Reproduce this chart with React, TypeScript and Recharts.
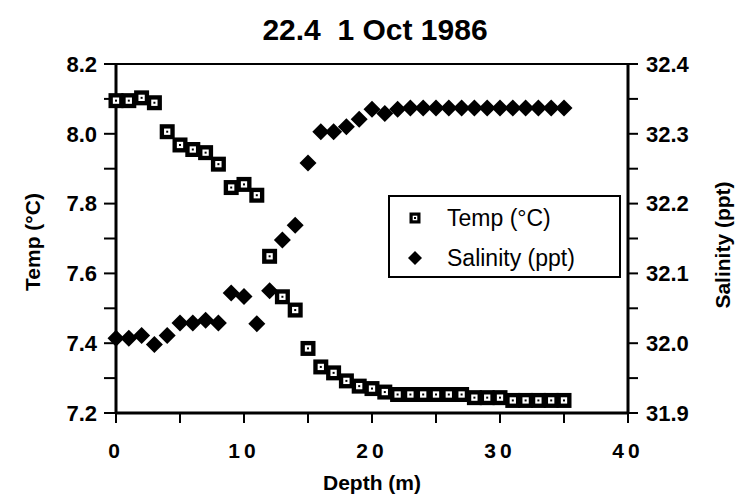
import {
    ScatterChart,
    Scatter,
    XAxis,
    YAxis,
    Legend,
    ReferenceLine,
} from 'recharts';

// Station 22.4, 1 Oct 1986: one reading per metre of depth
const depths = [
    0, 1, 2, 3, 4, 5, 6, 7, 8, 9, 10, 11, 12, 13, 14, 15, 16, 17,
    18, 19, 20, 21, 22, 23, 24, 25, 26, 27, 28, 29, 30, 31, 32, 33, 34, 35,
];

const temps = [
    8.095, 8.095, 8.103, 8.089, 8.006, 7.968, 7.955, 7.946, 7.913, 7.846, 7.855, 7.824,
    7.649, 7.533, 7.495, 7.385, 7.332, 7.315, 7.292, 7.277, 7.27, 7.26,
    7.253, 7.253, 7.253, 7.253, 7.253, 7.253, 7.244, 7.244, 7.244,
    7.236, 7.236, 7.236, 7.236, 7.236,
];

const salinity = [
    32.007, 32.007, 32.011, 31.998, 32.011, 32.029, 32.029, 32.033, 32.029, 32.072, 32.067, 32.028,
    32.075, 32.148, 32.169, 32.258, 32.303, 32.303, 32.31, 32.321, 32.335, 32.329,
    32.335, 32.337, 32.337, 32.337, 32.337, 32.337, 32.337, 32.337, 32.337,
    32.337, 32.337, 32.337, 32.337, 32.337,
];

const depthTicks = [0, 5, 10, 15, 20, 25, 30, 35, 40];
const tempTicks = [7.2, 7.3, 7.4, 7.5, 7.6, 7.7, 7.8, 7.9, 8.0, 8.1, 8.2];
const salTicks = [31.9, 31.95, 32.0, 32.05, 32.1, 32.15, 32.2, 32.25, 32.3, 32.35, 32.4];

const FONT = '"Liberation Sans", Arial, Helvetica, sans-serif';

const tempData = depths.map((d, i) => ({ depth: d, value: temps[i] }));
const salData = depths.map((d, i) => ({ depth: d, value: salinity[i] }));

// open square with a dot, as in the printed figure
// (markSize, not size: recharts overwrites size on scatter shapes)
function TempMark(props: any) {
    const { cx, cy, markSize = 15 } = props;
    const h = markSize / 2;
    const w = markSize * 0.21;
    return (
        <g>
            <rect x={cx - h} y={cy - h} width={markSize} height={markSize} fill="#000" />
            <rect x={cx - w} y={cy - w} width={w * 2} height={w * 2} fill="#fff" />
            <rect x={cx - 1} y={cy - 1} width={2} height={2} fill="#000" />
        </g>
    );
}

function SalMark(props: any) {
    const { cx, cy, markSize = 17 } = props;
    const h = markSize / 2;
    return (
        <polygon
            points={`${cx},${cy - h} ${cx + h},${cy} ${cx},${cy + h} ${cx - h},${cy}`}
            fill="#000"
        />
    );
}

function LegendBox() {
    const row = { display: 'flex', alignItems: 'center', height: 40 };
    const label = { fontFamily: FONT, fontSize: 23, color: '#000', marginLeft: 25 };
    return (
        <div
            style={{
                width: 233,
                height: 83,
                border: '2px solid #000',
                background: '#fff',
                boxSizing: 'border-box',
                padding: '1px 0 0 18px',
            }}
        >
            <div style={row}>
                <svg width={14} height={14}>
                    <TempMark cx={7} cy={7} markSize={11} />
                </svg>
                <span style={label}>Temp (°C)</span>
            </div>
            <div style={row}>
                <svg width={14} height={14}>
                    <SalMark cx={7} cy={7} markSize={14} />
                </svg>
                <span style={label}>Salinity (ppt)</span>
            </div>
        </div>
    );
}

const tickStyle = { fill: '#000', fontSize: 21, fontWeight: 'bold', fontFamily: FONT };

export default function App() {
    return (
        <div style={{ position: 'absolute', left: 0, top: 0, width: 747, height: 498, background: '#fff' }}>
            <div
                style={{
                    position: 'absolute',
                    left: 0,
                    top: 12,
                    width: 750,
                    textAlign: 'center',
                    fontFamily: FONT,
                    fontWeight: 'bold',
                    fontSize: 30,
                    whiteSpace: 'pre',
                    lineHeight: '36px',
                }}
            >
                {'22.4  1 Oct 1986'}
            </div>
            <ScatterChart width={747} height={498} margin={{ top: 64, right: 0, bottom: 0, left: 0 }}>
                <XAxis
                    type="number"
                    dataKey="depth"
                    domain={[0, 40]}
                    ticks={depthTicks}
                    interval={0}
                    height={85}
                    tickSize={10}
                    tickMargin={20}
                    axisLine={{ stroke: '#000', strokeWidth: 3 }}
                    tickLine={{ stroke: '#000', strokeWidth: 2 }}
                    tick={{ ...tickStyle, letterSpacing: 4 }}
                    tickFormatter={(v: number) => (v % 10 === 0 ? String(v) : '')}
                    label={{
                        content: () => (
                            <text x={372} y={490} textAnchor="middle" fontFamily={FONT} fontSize={21} fontWeight="bold" fill="#000">
                                Depth (m)
                            </text>
                        ),
                    }}
                />
                <YAxis
                    yAxisId="left"
                    type="number"
                    dataKey="value"
                    domain={[7.2, 8.2]}
                    ticks={tempTicks}
                    interval={0}
                    width={116}
                    tickSize={12}
                    tickMargin={7}
                    axisLine={{ stroke: '#000', strokeWidth: 3 }}
                    tickLine={{ stroke: '#000', strokeWidth: 2 }}
                    tick={{ ...tickStyle, fontSize: 22 }}
                    tickFormatter={(v: number) => (Math.round(v * 10) % 2 === 0 ? v.toFixed(1) : '')}
                    label={{
                        content: () => (
                            <text
                                x={32}
                                y={242}
                                transform="rotate(-90 32 242)"
                                textAnchor="middle"
                                dominantBaseline="central"
                                fontFamily={FONT}
                                fontWeight="bold"
                                fontSize={21}
                                fill="#000"
                            >
                                Temp (°C)
                            </text>
                        ),
                    }}
                />
                <YAxis
                    yAxisId="right"
                    orientation="right"
                    type="number"
                    dataKey="value"
                    domain={[31.9, 32.4]}
                    ticks={salTicks}
                    interval={0}
                    width={119}
                    tickSize={10}
                    tickMargin={8}
                    axisLine={{ stroke: '#000', strokeWidth: 3 }}
                    tickLine={{ stroke: '#000', strokeWidth: 2 }}
                    tick={{ ...tickStyle, fontSize: 22 }}
                    tickFormatter={(v: number) => (Math.round(v * 100) % 10 === 0 ? v.toFixed(1) : '')}
                    label={{
                        content: () => (
                            <text
                                x={722}
                                y={245}
                                transform="rotate(-90 722 245)"
                                textAnchor="middle"
                                dominantBaseline="central"
                                fontFamily={FONT}
                                fontWeight="bold"
                                fontSize={21}
                                fill="#000"
                            >
                                Salinity (ppt)
                            </text>
                        ),
                    }}
                />
                <ReferenceLine yAxisId="left" y={8.2} stroke="#000" strokeWidth={2} />
                <Scatter
                    name="Temp (°C)"
                    yAxisId="left"
                    data={tempData}
                    shape={<TempMark />}
                    isAnimationActive={false}
                />
                <Scatter
                    name="Salinity (ppt)"
                    yAxisId="right"
                    data={salData}
                    shape={<SalMark />}
                    isAnimationActive={false}
                />
                <Legend
                    layout="horizontal"
                    verticalAlign="middle"
                    align="center"
                    content={() => <LegendBox />}
                    wrapperStyle={{ left: 388, top: 195, width: 233, height: 83 }}
                />
            </ScatterChart>
        </div>
    );
}
